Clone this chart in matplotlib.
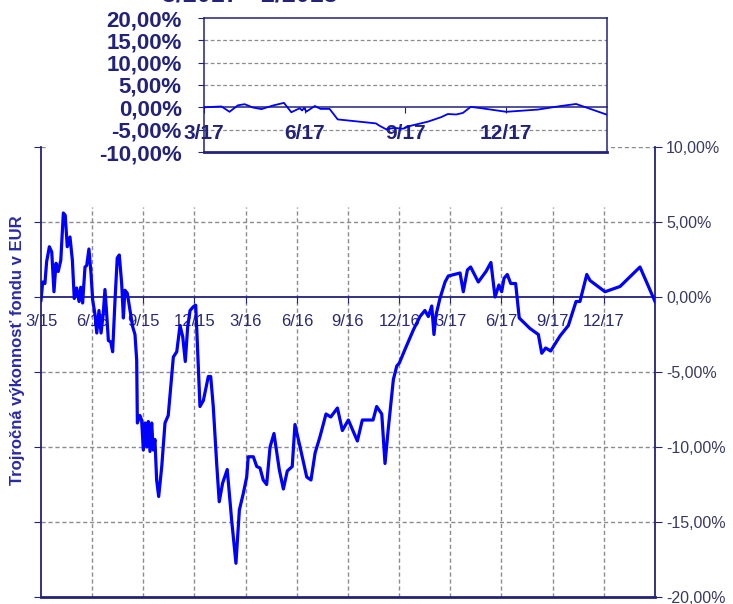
import numpy as np
import matplotlib.pyplot as plt
from matplotlib.patches import Rectangle
from matplotlib.ticker import FuncFormatter

plt.rcParams['font.family'] = ['Liberation Sans', 'DejaVu Sans']

# months since 3/2015, three-year performance in %
main_months = [0.00, 0.10, 0.23, 0.33, 0.49, 0.63, 0.76, 0.88, 1.01, 1.16, 1.31, 1.42, 1.54, 1.70,
               1.84, 1.95, 2.09, 2.23, 2.33, 2.44, 2.58, 2.68, 2.81, 2.93, 3.03, 3.17, 3.27, 3.40,
               3.52, 3.65, 3.75, 3.85, 3.95, 4.09, 4.20, 4.34, 4.47, 4.59, 4.73, 4.83, 4.92, 5.06,
               5.22, 5.38, 5.51, 5.61, 5.65, 5.80, 5.90, 6.00, 6.10, 6.20, 6.29, 6.39, 6.49, 6.58,
               6.68, 6.78, 6.90, 7.08, 7.27, 7.46, 7.76, 7.96, 8.15, 8.31, 8.46, 8.60, 8.74, 8.93,
               9.07, 9.16, 9.32, 9.52, 9.81, 9.95, 10.10, 10.30, 10.45, 10.65, 10.92, 11.18, 11.43,
               11.63, 11.86, 12.06, 12.15, 12.45, 12.65, 12.84, 13.03, 13.23, 13.43, 13.66, 13.97,
               14.21, 14.44, 14.73, 14.89, 15.19, 15.58, 15.83, 16.07, 16.36, 16.71, 16.99, 17.38,
               17.67, 18.02, 18.55, 18.84, 19.47, 19.68, 19.98, 20.17, 20.36, 20.66, 20.86, 21.01,
               21.34, 21.83, 22.22, 22.51, 22.71, 22.91, 23.04, 23.16, 23.39, 23.69, 23.88, 24.57,
               24.76, 25.00, 25.19, 25.64, 26.09, 26.38, 26.62, 26.85, 27.01, 27.15, 27.34, 27.54,
               27.83, 28.04, 28.67, 29.16, 29.36, 29.59, 29.88, 30.43, 30.92, 31.37, 31.60, 32.00,
               32.19, 33.07, 33.95, 35.12, 36.00]
main_perf = [-0.2, 1.0, 0.9, 2.35, 3.35, 3.0, 0.35, 2.25, 1.7, 2.45, 5.6, 5.45, 3.35, 4.0,
             2.45, -0.1, 0.6, -0.3, 0.65, -0.4, 2.0, 2.1, 3.2, 1.6, -0.2, -1.2, -2.4, -0.9,
             -2.4, -1.1, 0.5, -1.1, -2.9, -3.0, -3.65, -0.2, 2.6, 2.8, 0.9, -1.4, 0.45, 0.25,
             -0.9, -2.0, -2.5, -4.2, -8.4, -7.9, -8.2, -10.2, -8.4, -10.0, -8.3, -10.3, -8.4, -10.2,
             -9.5, -12.2, -13.3, -11.3, -8.4, -7.9, -4.0, -3.65, -1.9, -2.65, -4.3, -2.0, -0.9, -0.65,
             -0.55, -2.9, -7.3, -6.9, -5.3, -5.3, -7.3, -11.1, -13.65, -12.4, -11.5, -14.9, -17.75,
             -14.2, -13.1, -12.0, -10.65, -10.65, -11.3, -11.4, -12.2, -12.5, -10.0, -9.1, -11.5,
             -12.8, -11.6, -11.3, -8.5, -10.0, -12.0, -12.2, -10.4, -9.3, -7.8, -8.0, -7.4,
             -8.9, -8.2, -9.6, -8.2, -8.2, -7.3, -7.8, -11.1, -8.8, -5.5, -4.6, -4.4,
             -3.5, -2.2, -1.3, -0.9, -1.3, -0.6, -2.5, -1.2, -0.1, 1.0, 1.4, 1.6,
             0.35, 1.8, 2.0, 1.0, 1.7, 2.3, 0.0, 0.8, 0.35, 1.25, 1.5, 0.9,
             0.9, -1.4, -2.1, -2.5, -3.75, -3.4, -3.6, -2.6, -1.9, -0.3, -0.3, 1.5,
             1.1, 0.35, 0.7, 2.0, -0.3]

# inset: last 12 months (3/2017 - 2/2018)
inset_months = [24.00, 24.52, 24.76, 25.01, 25.21, 25.46, 25.71, 26.05, 26.38, 26.60, 26.85,
                26.92, 26.98, 27.05, 27.30, 27.47, 27.74, 27.98, 29.12, 29.22, 29.42, 29.67,
                29.92, 30.17, 30.67, 31.06, 31.26, 31.51, 31.71, 31.94, 32.26, 33.00, 33.94,
                34.63, 35.08, 35.33, 35.98]
inset_perf = [0.0, 0.2, -1.0, 0.45, 0.7, -0.05, -0.4, 0.4, 1.0, -1.1, -0.2,
              -0.7, -0.15, -0.95, 0.3, -0.35, -0.35, -2.7, -3.6, -4.1, -4.9, -4.6,
              -4.8, -4.1, -3.2, -2.2, -1.5, -1.6, -1.25, 0.1, -0.2, -1.0, -0.5,
              0.3, 0.75, 0.1, -1.6]

main_ticks = [0, 3, 6, 9, 12, 15, 18, 21, 24, 27, 30, 33]
main_labels = ['3/15', '6/15', '9/15', '12/15', '3/16', '6/16', '9/16', '12/16',
               '3/17', '6/17', '9/17', '12/17']
inset_ticks = [24, 27, 30, 33]
inset_labels = ['3/17', '6/17', '9/17', '12/17']

navy = '#22227a'
grid_c = '#8c8c8c'
pct = FuncFormatter(lambda v, p: f"{v:.2f}%".replace('.', ','))

W, H = 733, 604
fig = plt.figure(figsize=(W / 100, H / 100), dpi=100)

def box(x0, y0, x1, y1):
    return [x0 / W, 1 - y1 / H, (x1 - x0) / W, (y1 - y0) / H]

# ---------- main chart ----------
ax = fig.add_axes(box(41, 147, 655, 597), zorder=0)
ax.set_xlim(0, 36)
ax.set_ylim(-20, 10)
for yv in [-15, -10, -5, 5, 10]:
    ax.axhline(yv, color=grid_c, lw=1, ls=(0, (3, 2)), zorder=1)
ax.vlines(main_ticks[1:], -20, 6, color=grid_c, lw=1, ls=(0, (3, 2)), zorder=1)
ax.plot(main_months, main_perf, color='#0000ff', lw=2.3, zorder=3)

ax.spines['top'].set_visible(False)
ax.spines['bottom'].set_position(('data', 0))
for s in ['left', 'right', 'bottom']:
    ax.spines[s].set_color(navy)
    ax.spines[s].set_linewidth(1.3)
ax.axhline(-20, color=navy, lw=2, clip_on=False, zorder=4)

ax.set_yticks([-20, -15, -10, -5, 0, 5, 10])
ax.yaxis.set_major_formatter(pct)
ax.tick_params(axis='y', left=True, right=True, labelleft=False, labelright=True,
               direction='out', length=5, color=navy, pad=3, labelsize=11.5,
               labelcolor='#3a3a60')
ax.set_xticks(main_ticks)
ax.set_xticklabels(main_labels)
ax.tick_params(axis='x', direction='out', length=4, color=navy, pad=8,
               labelsize=12, labelcolor='#2a2a70')

fig.text(18 / W, 1 - 350 / H, 'Trojročná výkonnosť fondu v EUR', rotation=90,
         ha='center', va='center', fontsize=12, fontweight='bold', color='#2a2aa8')

# white panel behind the inset
fig.patches.append(Rectangle((46 / W, 1 - 150 / H), (608 - 46) / W, 150 / H,
                             transform=fig.transFigure, facecolor='white',
                             edgecolor='none', zorder=1))

# ---------- inset ----------
ins = fig.add_axes(box(204, 18, 607, 152), zorder=2)
ins.set_xlim(24, 36)
ins.set_ylim(-10, 20)
for yv in [-5, 5, 10, 15]:
    ins.axhline(yv, color=grid_c, lw=0.9, ls=(0, (3, 2)), zorder=1)
ins.plot(inset_months, inset_perf, color='#0000ff', lw=1.3, zorder=3)
ins.spines['bottom'].set_position(('data', 0))
for s in ['left', 'right', 'top', 'bottom']:
    ins.spines[s].set_color(navy)
    ins.spines[s].set_linewidth(1.1)
ins.axhline(-10, color=navy, lw=2, clip_on=False, zorder=4)
ins.set_yticks([-10, -5, 0, 5, 10, 15, 20])
ins.yaxis.set_major_formatter(pct)
ins.tick_params(axis='y', direction='out', length=4, color=navy, pad=12,
                labelsize=16, labelcolor=navy)
ins.set_xticks(inset_ticks)
ins.set_xticklabels(inset_labels)
ins.tick_params(axis='x', direction='out', length=4, color=navy, pad=8,
                labelsize=15, labelcolor=navy)
for lab in ins.get_xticklabels() + ins.get_yticklabels():
    lab.set_fontweight('bold')

# title of the inset sits above the top edge and is mostly cut off
fig.text(250 / W, 1 - 1 / H, '3/2017 - 2/2018', ha='center', va='baseline',
         fontsize=18, fontweight='bold', color=navy)

fig.savefig('out.png', dpi=100)
